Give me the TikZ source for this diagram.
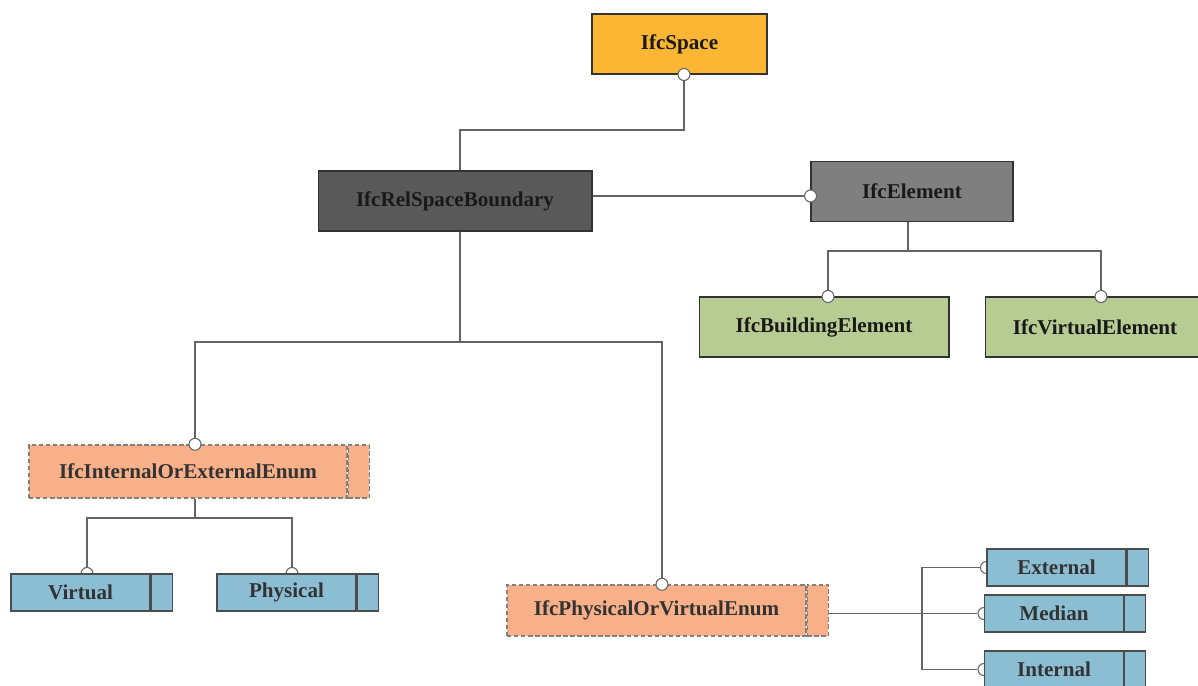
\documentclass[tikz,border=0pt]{standalone}
\usepackage{fontspec}
\setmainfont{Liberation Serif}
\usetikzlibrary{positioning, backgrounds}

\definecolor{spaceorange}{RGB}{251,183,52}
\definecolor{reldark}{RGB}{89,89,89}
\definecolor{elemgray}{RGB}{127,127,127}
\definecolor{elemgreen}{RGB}{183,204,146}
\definecolor{enumsalmon}{RGB}{248,176,137}
\definecolor{valueblue}{RGB}{139,190,210}
\definecolor{linegray}{RGB}{100,100,100}

\begin{document}
\begin{tikzpicture}[
        x=0.02cm, y=-0.02cm,
        entity/.style={rectangle, draw=black!80, line width=0.6pt, text=black!90, minimum height=1.2cm, align=center, font=\bfseries\fontsize{12}{14}\selectfont},
        enumbox/.style={rectangle, draw=black!50, dashed, dash pattern=on 2.5pt off 1.5pt, line width=0.8pt, fill=enumsalmon, text=black!80, inner sep=0pt, font=\bfseries\fontsize{12}{14}\selectfont},
        enumtail/.style={rectangle, draw=black!50, dashed, dash pattern=on 2.5pt off 1.5pt, line width=0.8pt, fill=enumsalmon, inner sep=0pt, minimum width=0.42cm},
        valuebox/.style={rectangle, draw=black!70, line width=0.6pt, fill=valueblue, text=black!80, inner sep=0pt, minimum width=2.78cm, minimum height=0.74cm, font=\bfseries\fontsize{12}{14}\selectfont},
        valuetail/.style={rectangle, draw=black!70, line width=0.6pt, fill=valueblue, inner sep=0pt, minimum width=0.42cm, minimum height=0.74cm},
        link/.style={draw=linegray, line width=0.6pt},
        port/.style={circle, draw=linegray, fill=white, line width=0.6pt, inner sep=0pt, minimum size=0.24cm}
    ]
        \useasboundingbox (0,0) rectangle (1198,686);
        \clip (0,0) rectangle (1198,686);

        % Entities
        \node[entity, fill=spaceorange, minimum width=3.5cm] (space) at (679.5,44) {IfcSpace};
        \node[entity, fill=reldark, minimum width=5.48cm] (rsb) at (455,201) {IfcRelSpaceBoundary};
        \node[entity, fill=elemgray, minimum width=4.04cm] (elem) at (912,191.5) {IfcElement};
        \node[entity, fill=elemgreen, minimum width=5cm] (build) at (824,327) {IfcBuildingElement};
        \node[entity, fill=elemgreen, minimum width=4.4cm] (virtel) at (1095,327) {IfcVirtualElement};

        % Enumerations
        \node[enumbox, minimum width=6.36cm, minimum height=1.06cm] (inext) at (188,471.5) {IfcInternalOrExternalEnum};
        \node[enumtail, minimum height=1.06cm, right=0pt of inext] (inextt) {};
        \node[enumbox, minimum width=5.98cm, minimum height=1.02cm] (physvirt) at (656.5,610.5) {IfcPhysicalOrVirtualEnum};
        \node[enumtail, minimum height=1.02cm, right=0pt of physvirt] (physvirtt) {};

        % Enumeration values
        \node[valuebox] (virt) at (80.5,592.5) {Virtual};
        \node[valuetail, right=0pt of virt] (virtt) {};
        \node[valuebox] (phys) at (286.5,592.5) {Physical};
        \node[valuetail, right=0pt of phys] (physt) {};
        \node[valuebox] (ext) at (1056.5,567.5) {External};
        \node[valuetail, right=0pt of ext] (extt) {};
        \node[valuebox] (med) at (1054,613.5) {Median};
        \node[valuetail, right=0pt of med] (medt) {};
        \node[valuebox] (int) at (1054,669.5) {Internal};
        \node[valuetail, right=0pt of int] (intt) {};

        % Half hidden ports
        \begin{pgfonlayer}{background}
            \node[port] (virtp) at ([xshift=0.13cm]virt.north) {};
            \node[port] (physp) at ([xshift=0.11cm]phys.north) {};
            \node[port] (extp) at (ext.west) {};
            \node[port] (medp) at (med.west) {};
            \node[port] (intp) at (int.west) {};
        \end{pgfonlayer}

        % Ports
        \node[port] (spacep) at ([xshift=0.09cm]space.south) {};
        \node[port] (elemp) at ([yshift=-0.09cm]elem.west) {};
        \node[port] (buildp) at ([xshift=0.08cm]build.north) {};
        \node[port] (virtelp) at ([xshift=0.12cm]virtel.north) {};
        \node[port] (inextp) at ([xshift=0.14cm]inext.north) {};
        \node[port] (physvirtp) at ([xshift=0.11cm]physvirt.north) {};

        % Connectors
        \coordinate (j1) at ([xshift=0.1cm]rsb.north |- 0,130);
        \draw[link] (spacep) |- (j1) -- ([xshift=0.1cm]rsb.north);
        \draw[link] (rsb.east |- elemp) -- (elemp);

        \coordinate (j2) at ([xshift=-0.08cm]elem.south |- 0,251);
        \draw[link] ([xshift=-0.08cm]elem.south) -- (j2) -| (buildp);
        \draw[link] (j2) -| (virtelp);

        \coordinate (j3) at ([xshift=0.1cm]rsb.south |- 0,342);
        \draw[link] ([xshift=0.1cm]rsb.south) -- (j3) -| (inextp);
        \draw[link] (j3) -| (physvirtp);

        \coordinate (j4) at ([xshift=0.14cm]inext.south |- 0,518);
        \draw[link] ([xshift=0.14cm]inext.south) -- (j4) -| (virtp);
        \draw[link] (j4) -| (physp);

        \coordinate (j5) at (922,613.5);
        \draw[link] (physvirtt.east |- medp) -- (medp);
        \draw[link] (extp) -| (j5) |- (intp);
    \end{tikzpicture}
\end{document}
